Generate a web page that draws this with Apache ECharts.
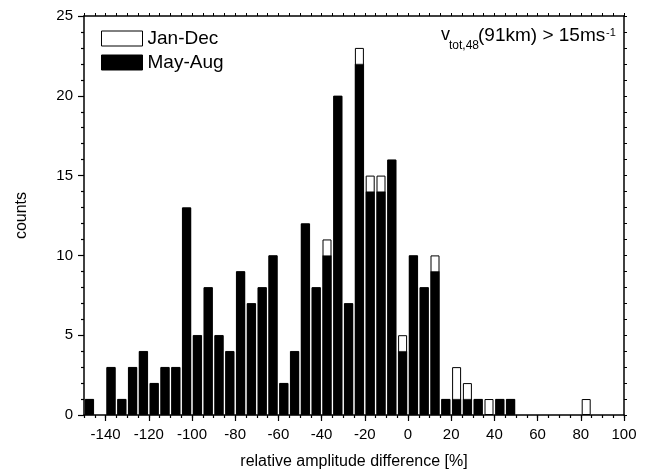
<!DOCTYPE html>
<html style="height: 100%">
<head>
	<meta charset="utf-8">
</head>
<body style="height: 100%; margin: 0; background: #fff">
<div id="container" style="width: 645px; height: 475px"></div>
<script type="text/javascript" src="https://cdn.jsdelivr.net/npm/echarts@6/dist/echarts.min.js"></script>
<script type="text/javascript">
    // histogram bins, 5 % wide (centres)
    var binCenters = [-147.5, -142.5, -137.5, -132.5, -127.5, -122.5, -117.5, -112.5, -107.5, -102.5,
        -97.5, -92.5, -87.5, -82.5, -77.5, -72.5, -67.5, -62.5, -57.5, -52.5,
        -47.5, -42.5, -37.5, -32.5, -27.5, -22.5, -17.5, -12.5, -7.5, -2.5,
        2.5, 7.5, 12.5, 17.5, 22.5, 27.5, 32.5, 37.5, 42.5, 47.5,
        52.5, 57.5, 62.5, 67.5, 72.5, 77.5, 82.5];
    var countsJanDec = [1, 0, 3, 1, 3, 4, 2, 3, 3, 13,
        5, 8, 5, 4, 9, 7, 8, 10, 2, 4,
        12, 8, 11, 20, 7, 23, 15, 15, 16, 5,
        10, 8, 10, 1, 3, 2, 1, 1, 1, 1,
        0, 0, 0, 0, 0, 0, 1];
    var countsMayAug = [1, 0, 3, 1, 3, 4, 2, 3, 3, 13,
        5, 8, 5, 4, 9, 7, 8, 10, 2, 4,
        12, 8, 10, 20, 7, 22, 14, 14, 16, 4,
        10, 8, 9, 1, 1, 1, 1, 0, 1, 1,
        0, 0, 0, 0, 0, 0, 0];
    var xTickLabels = [-140, -120, -100, -80, -60, -40, -20, 0, 20, 40, 60, 80, 100];

    function toPoints(counts) {
        var pts = [];
        for (var i = 0; i < binCenters.length; i++) {
            if (counts[i] > 0) pts.push([binCenters[i], counts[i]]);
        }
        return pts;
    }

    var dom = document.getElementById("container");
    var myChart = echarts.init(dom, null, {renderer: 'canvas'});
    var font = 'Arial, "Liberation Sans", sans-serif';
    var axisLine = {show: true, onZero: false, lineStyle: {color: '#000', width: 1.5}};

    var option = {
        backgroundColor: '#fff',
        animation: false,
        textStyle: {fontFamily: font, color: '#000'},
        grid: {left: 84, right: 21, top: 16, bottom: 59},
        legend: {
            orient: 'vertical',
            left: 96,
            top: 24,
            itemWidth: 41,
            itemHeight: 15,
            itemGap: 5,
            textStyle: {fontSize: 19, fontFamily: font, color: '#000'},
            data: [
                {name: 'Jan-Dec', icon: 'rect', itemStyle: {color: '#fff', borderColor: '#000', borderWidth: 1}},
                {name: 'May-Aug', icon: 'rect', itemStyle: {color: '#000', borderColor: '#000', borderWidth: 1}}
            ]
        },
        xAxis: [{
            type: 'value',
            min: -150,
            max: 100,
            position: 'bottom',
            name: 'relative amplitude difference [%]',
            nameLocation: 'middle',
            nameGap: 39,
            nameTextStyle: {fontSize: 16, fontFamily: font, color: '#000'},
            axisLine: axisLine,
            axisTick: {show: true, customValues: xTickLabels, length: 6, lineStyle: {color: '#000', width: 1.2}},
            axisLabel: {customValues: xTickLabels, fontSize: 15, margin: 12, color: '#000', fontFamily: font},
            splitLine: {show: false}
        }, {
            type: 'value',
            min: -150,
            max: 100,
            interval: 5,
            position: 'bottom',
            axisLine: {show: false, onZero: false},
            axisTick: {show: true, length: 3, lineStyle: {color: '#000', width: 1.2}},
            axisLabel: {show: false},
            splitLine: {show: false}
        }, {
            type: 'value',
            min: -150,
            max: 100,
            interval: 5,
            position: 'top',
            axisLine: axisLine,
            axisTick: {show: true, length: 3, lineStyle: {color: '#000', width: 1}},
            axisLabel: {show: false},
            splitLine: {show: false}
        }],
        yAxis: [{
            type: 'value',
            min: 0,
            max: 25,
            interval: 5,
            position: 'left',
            name: 'counts',
            nameLocation: 'middle',
            nameGap: 54,
            nameTextStyle: {fontSize: 16, fontFamily: font, color: '#000'},
            axisLine: axisLine,
            axisTick: {show: true, length: 6, lineStyle: {color: '#000', width: 1.2}},
            minorTick: {show: true, splitNumber: 5, length: 3, lineStyle: {color: '#000', width: 1.2}},
            axisLabel: {fontSize: 15, margin: 11, color: '#000', fontFamily: font},
            splitLine: {show: false}
        }, {
            type: 'value',
            min: 0,
            max: 25,
            interval: 1,
            position: 'right',
            axisLine: axisLine,
            axisTick: {show: true, length: 3, lineStyle: {color: '#000', width: 1}},
            axisLabel: {show: false},
            splitLine: {show: false}
        }],
        series: [{
            name: 'Jan-Dec',
            type: 'bar',
            xAxisIndex: 0,
            yAxisIndex: 0,
            barWidth: 9,
            barGap: '-100%',
            itemStyle: {color: '#fff', borderColor: '#000', borderWidth: 1},
            data: toPoints(countsJanDec)
        }, {
            name: 'May-Aug',
            type: 'bar',
            xAxisIndex: 0,
            yAxisIndex: 0,
            barWidth: 9,
            barGap: '-100%',
            itemStyle: {color: '#000', borderColor: '#000', borderWidth: 0.5},
            data: toPoints(countsMayAug)
        }],
        graphic: [
            {type: 'text', left: 441, top: 26, style: {text: 'v', fontSize: 18, fontFamily: font, fill: '#000'}},
            {type: 'text', left: 449, top: 40, style: {text: 'tot,48', fontSize: 12, fontFamily: font, fill: '#000'}},
            {type: 'text', left: 478, top: 26, style: {text: '(91km) > 15ms', fontSize: 19, fontFamily: font, fill: '#000'}},
            {type: 'text', left: 606, top: 27, style: {text: '-1', fontSize: 11, fontFamily: font, fill: '#000'}}
        ]
    };

    myChart.setOption(option, true);
</script>
</body>
</html>
